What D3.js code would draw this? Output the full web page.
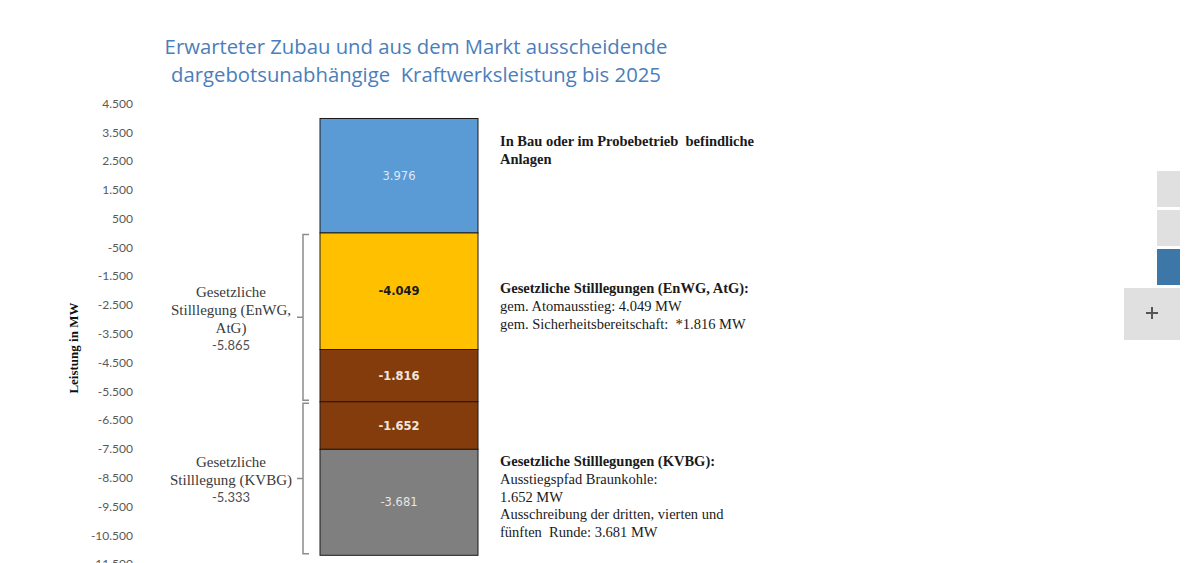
<!DOCTYPE html>
<html>
<head>
<meta charset="utf-8">
<script src="https://cdn.jsdelivr.net/npm/d3@7"></script>
<style>
  body { margin: 0; background: #fff; }
  svg { display: block; }
  text { white-space: pre; }
  .tick text { font-family: Lato, "Open Sans", sans-serif; font-size: 12px; fill: #595959; }
</style>
</head>
<body>
<svg width="1200" height="563"></svg>
<script>
//data
const segments = ["In Bau / Probebetrieb", "Atomausstieg", "Sicherheitsbereitschaft", "Braunkohle", "Ausschreibung"];
const values = [3976, -4049, -1816, -1652, -3681];
const colors = ["#5b9bd5", "#ffc000", "#843c0c", "#843c0c", "#7f7f7f"];
const labelColors = ["#dde8f4", "#1a1a1a", "#f2e6dc", "#f2e6dc", "#e6e6e6"];
const yTicks = [4500, 3500, 2500, 1500, 500, -500, -1500, -2500, -3500, -4500, -5500, -6500, -7500, -8500, -9500, -10500, -11500];
const groups = [
  {lines: ["Gesetzliche", "Stilllegung (EnWG,", "AtG)"], members: [1, 2]},
  {lines: ["Gesetzliche", "Stilllegung (KVBG)"], members: [3, 4]}
];
const notes = [
  {bold: ["In Bau oder im Probebetrieb  befindliche", "Anlagen"], text: []},
  {bold: ["Gesetzliche Stilllegungen (EnWG, AtG):"], text: ["gem. Atomausstieg: 4.049 MW", "gem. Sicherheitsbereitschaft:  *1.816 MW"]},
  {bold: ["Gesetzliche Stilllegungen (KVBG):"], text: ["Ausstiegspfad Braunkohle:", "1.652 MW", "Ausschreibung der dritten, vierten und", "fünften  Runde: 3.681 MW"]}
];
const title = ["Erwarteter Zubau und aus dem Markt ausscheidende", "dargebotsunabhängige  Kraftwerksleistung bis 2025"];

const de = d3.formatLocale({decimal: ",", thousands: ".", grouping: [3], currency: ["", " €"], minus: "-"});
const fmt = de.format(",d");

//stacking: positives upward, negatives downward from zero
let pos = 0, neg = 0;
const stacked = values.map((v, i) => {
  let y0, y1;
  if (v >= 0) { y0 = pos; y1 = pos + v; pos = y1; }
  else { y0 = neg; y1 = neg + v; neg = y1; }
  return {i: i, name: segments[i], value: v, lo: Math.min(y0, y1), hi: Math.max(y0, y1)};
});

//scales
const y = d3.scaleLinear().domain([-11500, 4500]).range([564, 103.4]);
const x = d3.scaleBand().domain(["2025"]).range([320, 478]).padding(0);

const svg = d3.select("svg");
const serif = "'Liberation Serif', 'DejaVu Serif', serif";

//title
svg.append("g").selectAll("text")
  .data(title)
  .enter()
  .append("text")
  .attr("x", 416)
  .attr("y", (d, i) => 54 + i * 28)
  .attr("text-anchor", "middle")
  .style("font-family", "'Open Sans', sans-serif")
  .style("font-size", "20.3px")
  .style("fill", "#4a7ebb")
  .text(d => d);

//axis
const axis = svg.append("g")
  .attr("transform", "translate(137,0)")
  .call(d3.axisLeft(y).tickValues(yTicks).tickFormat(fmt).tickSize(0).tickPadding(4));
axis.select(".domain").remove();

svg.append("text")
  .attr("transform", "translate(78," + y(-4000) + ") rotate(-90)")
  .attr("text-anchor", "middle")
  .style("font-family", serif)
  .style("font-size", "13px")
  .style("font-weight", "bold")
  .style("fill", "#111")
  .text("Leistung in MW");

//bars
svg.append("g").selectAll("rect")
  .data(stacked)
  .enter()
  .append("rect")
  .attr("x", x("2025"))
  .attr("width", x.bandwidth())
  .attr("y", d => y(d.hi))
  .attr("height", d => y(d.lo) - y(d.hi))
  .style("fill", d => colors[d.i])
  .style("stroke", "#1a1a1a")
  .style("stroke-width", 1);

svg.append("g").selectAll("text")
  .data(stacked)
  .enter()
  .append("text")
  .attr("x", x("2025") + x.bandwidth() / 2)
  .attr("y", d => y((d.lo + d.hi) / 2))
  .attr("dy", "0.35em")
  .attr("text-anchor", "middle")
  .style("font-family", "'DejaVu Sans', Verdana, sans-serif")
  .style("font-size", "11.5px")
  .style("font-weight", d => d.i === 0 || d.i === 4 ? "normal" : "bold")
  .style("fill", d => labelColors[d.i])
  .text(d => fmt(d.value));

//brackets
const bx = 303;
groups.forEach(g => {
  const segs = g.members.map(m => stacked[m]);
  const top = y(d3.max(segs, s => s.hi)) + 1.5;
  const bot = y(d3.min(segs, s => s.lo)) - 1.5;
  const mid = (top + bot) / 2;
  const total = d3.sum(g.members, m => values[m]);

  svg.append("path")
    .attr("d", "M" + (bx + 6) + "," + top + "H" + bx + "V" + bot + "H" + (bx + 6)
      + "M" + bx + "," + mid + "H" + (bx - 6))
    .style("fill", "none")
    .style("stroke", "#8c8c8c")
    .style("stroke-width", 1.5);

  const n = g.lines.length;
  const step = 18;
  const startY = mid - (n - 1) * step / 2 - 8;
  const lbl = svg.append("g");
  lbl.selectAll("text")
    .data(g.lines)
    .enter()
    .append("text")
    .attr("x", 231)
    .attr("y", (d, i) => startY + i * step)
    .attr("dy", "0.35em")
    .attr("text-anchor", "middle")
    .style("font-family", serif)
    .style("font-size", "15px")
    .style("fill", "#3a3a3a")
    .text(d => d);
  lbl.append("text")
    .attr("x", 231)
    .attr("y", startY + n * step)
    .attr("dy", "0.35em")
    .attr("text-anchor", "middle")
    .style("font-family", "Lato, 'Open Sans', sans-serif")
    .style("font-size", "13px")
    .style("fill", "#505050")
    .text(fmt(total));
});

//notes
const noteY = [141, 288, 461];
notes.forEach((nt, k) => {
  const lines = nt.bold.map(t => ({t: t, b: true})).concat(nt.text.map(t => ({t: t, b: false})));
  svg.append("g").selectAll("text")
    .data(lines)
    .enter()
    .append("text")
    .attr("x", 500)
    .attr("y", (d, i) => noteY[k] + i * 17.8)
    .attr("dy", "0.35em")
    .style("font-family", serif)
    .style("font-size", "14.5px")
    .style("font-weight", d => d.b ? "bold" : "normal")
    .style("fill", "#1a1a1a")
    .text(d => d.t);
});

//side widget
const widget = [
  {x: 1157, y: 171, w: 23, h: 36, c: "#e0e0e0"},
  {x: 1157, y: 210, w: 23, h: 36, c: "#e0e0e0"},
  {x: 1157, y: 249, w: 23, h: 36, c: "#3c77a8"},
  {x: 1124, y: 288, w: 56, h: 52, c: "#e0e0e0"}
];
svg.append("g").selectAll("rect")
  .data(widget)
  .enter()
  .append("rect")
  .attr("x", d => d.x)
  .attr("y", d => d.y)
  .attr("width", d => d.w)
  .attr("height", d => d.h)
  .style("fill", d => d.c);
svg.append("path")
  .attr("d", "M1146,313H1158M1152,307V319")
  .style("stroke", "#555")
  .style("stroke-width", 2);
</script>
</body>
</html>
